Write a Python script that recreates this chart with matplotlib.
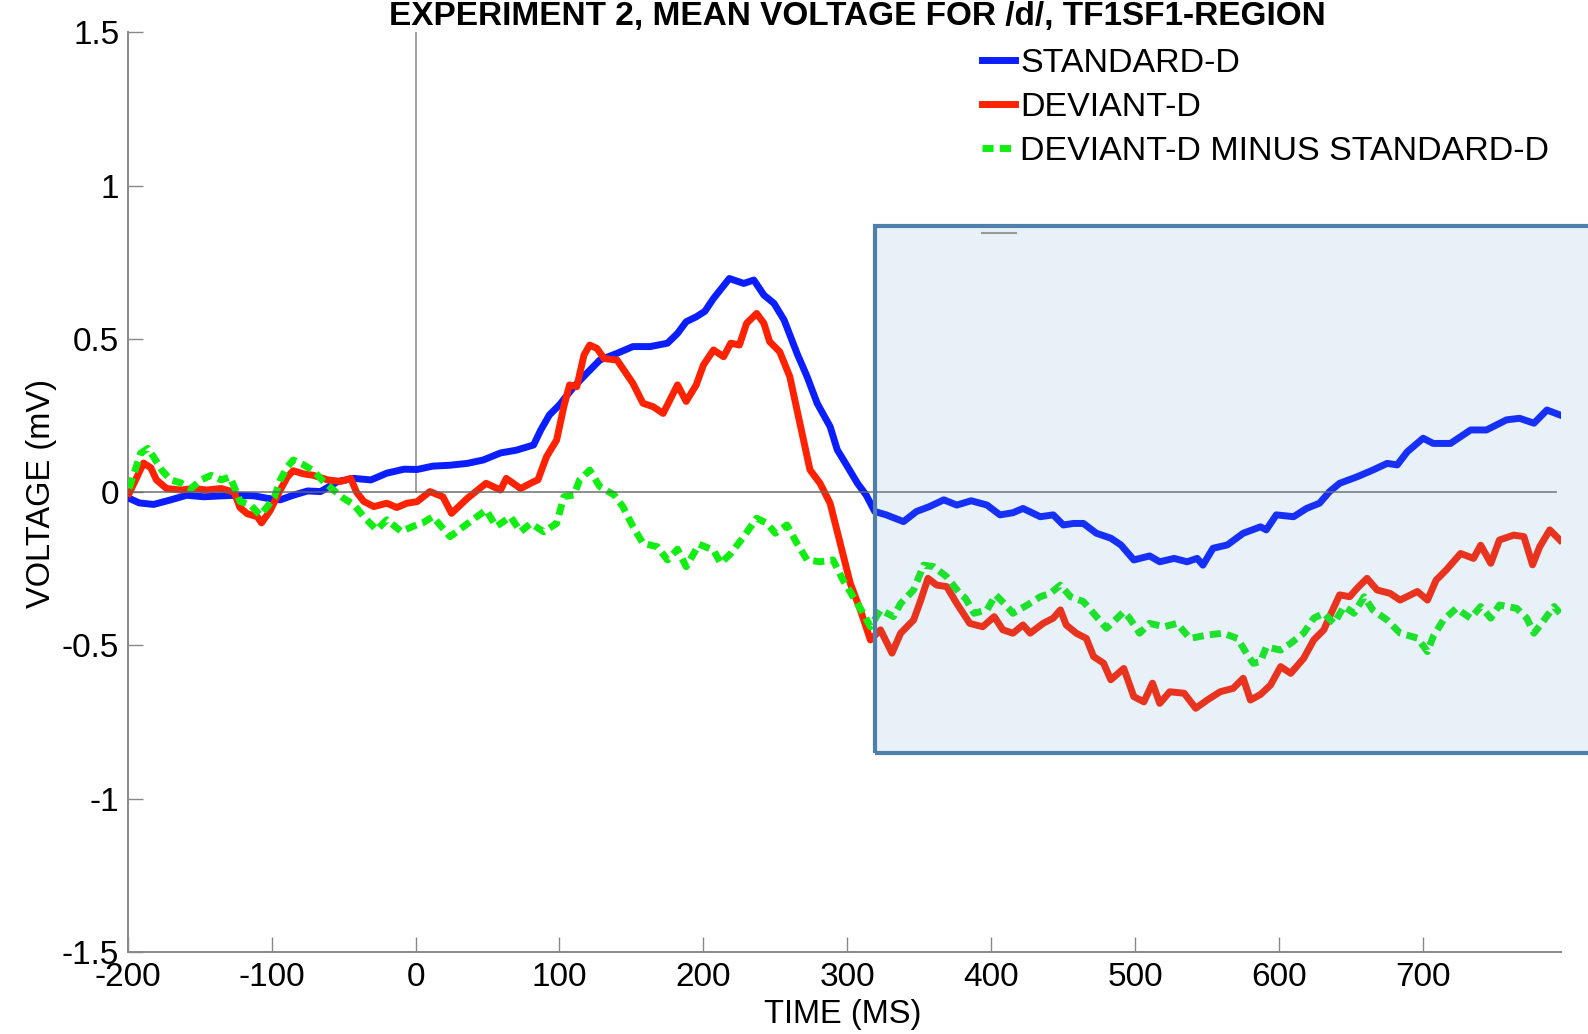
import matplotlib
matplotlib.use("Agg")
import matplotlib.pyplot as plt
from matplotlib.patches import Rectangle
from matplotlib.lines import Line2D

plt.rcParams['font.family'] = ['Liberation Sans', 'DejaVu Sans']
plt.rcParams['axes.unicode_minus'] = False

# standard /d/ (ms, mV)
std_t = [-199, -192, -182, -170, -159, -147, -135, -124, -112, -103, -94, -85, -75, -66,
         -54, -43, -31, -20, -8, 1, 12, 24, 36, 47, 59, 70, 82, 87, 93, 100, 110, 119,
         128, 140, 151, 163, 175, 182, 188, 195, 201, 207, 218, 228, 235, 242, 249, 256,
         265, 272, 279, 288, 293, 300, 307, 313, 319, 327, 339, 348, 357, 367, 376, 386,
         397, 406, 415, 422, 434, 443, 450, 457, 464, 473, 483, 490, 499, 510, 517, 527,
         536, 543, 547, 554, 564, 575, 587, 591, 598, 610, 619, 628, 635, 642, 654, 665,
         675, 682, 689, 700, 707, 719, 733, 744, 758, 767, 777, 786, 795]
std_v = [-0.02, -0.035, -0.04, -0.025, -0.01, -0.015, -0.012, -0.01, -0.012, -0.02, -0.025,
         -0.01, 0.004, 0.002, 0.035, 0.045, 0.04, 0.062, 0.075, 0.074, 0.085, 0.088, 0.094,
         0.105, 0.128, 0.137, 0.154, 0.203, 0.252, 0.285, 0.344, 0.388, 0.431, 0.453, 0.475,
         0.475, 0.486, 0.518, 0.556, 0.572, 0.59, 0.632, 0.697, 0.681, 0.692, 0.643, 0.616,
         0.562, 0.453, 0.377, 0.29, 0.214, 0.138, 0.084, 0.029, -0.009, -0.063, -0.074,
         -0.096, -0.063, -0.047, -0.025, -0.042, -0.028, -0.042, -0.074, -0.067, -0.053,
         -0.08, -0.074, -0.107, -0.102, -0.102, -0.134, -0.15, -0.172, -0.221, -0.208,
         -0.227, -0.216, -0.227, -0.216, -0.238, -0.183, -0.172, -0.134, -0.113, -0.123,
         -0.074, -0.08, -0.053, -0.036, 0.002, 0.029, 0.05, 0.072, 0.094, 0.089, 0.132,
         0.176, 0.159, 0.159, 0.203, 0.203, 0.236, 0.241, 0.225, 0.268, 0.252]

# deviant /d/
dev_t = [-199, -195, -189, -184, -180, -173, -163, -154, -145, -135, -126, -122, -117, -110,
         -107, -101, -94, -89, -85, -78, -71, -61, -52, -45, -41, -36, -29, -20, -13, -6,
         1, 10, 19, 25, 36, 49, 59, 63, 73, 82, 85, 91, 98, 103, 107, 112, 117, 121, 126,
         131, 140, 151, 158, 165, 172, 182, 188, 195, 200, 207, 214, 219, 225, 230, 237,
         242, 246, 253, 260, 267, 274, 281, 288, 295, 302, 309, 316, 323, 331, 337, 346,
         351, 356, 362, 369, 376, 385, 394, 402, 408, 415, 422, 427, 436, 443, 448, 452,
         459, 466, 471, 478, 483, 492, 499, 506, 512, 517, 524, 534, 542, 550, 559, 568,
         575, 580, 587, 594, 601, 608, 617, 624, 631, 635, 642, 649, 654, 661, 668, 677,
         684, 696, 703, 709, 716, 726, 735, 740, 747, 753, 763, 770, 776, 781, 788, 795]
dev_v = [-0.004, 0.035, 0.095, 0.08, 0.04, 0.012, 0.007, 0.012, 0.007, 0.012, 0.0, -0.05,
         -0.07, -0.08, -0.1, -0.06, 0.007, 0.05, 0.07, 0.06, 0.055, 0.04, 0.035, 0.045, 0.0,
         -0.03, -0.047, -0.036, -0.05, -0.036, -0.031, 0.002, -0.015, -0.069, -0.02, 0.029,
         0.007, 0.045, 0.012, 0.034, 0.04, 0.116, 0.17, 0.279, 0.35, 0.344, 0.447, 0.48,
         0.469, 0.436, 0.431, 0.355, 0.29, 0.279, 0.257, 0.35, 0.296, 0.35, 0.415, 0.464,
         0.442, 0.486, 0.48, 0.551, 0.583, 0.551, 0.491, 0.458, 0.377, 0.225, 0.073, 0.029,
         -0.036, -0.167, -0.297, -0.384, -0.482, -0.449, -0.525, -0.46, -0.417, -0.352,
         -0.281, -0.303, -0.308, -0.363, -0.428, -0.439, -0.406, -0.449, -0.46, -0.433,
         -0.46, -0.428, -0.411, -0.384, -0.433, -0.46, -0.477, -0.536, -0.558, -0.612,
         -0.575, -0.667, -0.684, -0.623, -0.689, -0.651, -0.656, -0.705, -0.678, -0.651,
         -0.64, -0.607, -0.678, -0.66, -0.629, -0.569, -0.591, -0.542, -0.482, -0.449,
         -0.406, -0.335, -0.341, -0.314, -0.281, -0.319, -0.33, -0.352, -0.324, -0.352,
         -0.287, -0.254, -0.2, -0.216, -0.173, -0.232, -0.156, -0.14, -0.145, -0.237,
         -0.178, -0.123, -0.156]

# deviant minus standard
diff_t = [-199, -195, -191, -186, -182, -176, -170, -163, -156, -149, -142, -135, -129, -125,
          -122, -115, -108, -103, -98, -94, -89, -85, -78, -71, -64, -57, -50, -43, -36,
          -27, -20, -10, -1, 5, 12, 24, 38, 49, 56, 66, 73, 80, 89, 98, 103, 110, 114, 121,
          128, 138, 144, 151, 158, 168, 175, 182, 188, 197, 207, 212, 219, 228, 237, 244,
          250, 258, 265, 272, 281, 290, 297, 304, 311, 316, 323, 332, 337, 346, 353, 360,
          369, 378, 382, 388, 397, 403, 410, 415, 425, 434, 441, 448, 455, 464, 471, 480,
          485, 492, 496, 503, 510, 520, 529, 538, 550, 561, 571, 578, 582, 587, 591, 601,
          608, 617, 624, 631, 638, 645, 652, 659, 665, 675, 684, 696, 703, 707, 714, 723,
          733, 740, 747, 753, 765, 772, 777, 784, 791, 795]
diff_v = [0.012, 0.07, 0.127, 0.143, 0.115, 0.07, 0.04, 0.03, 0.012, 0.04, 0.055, 0.04, 0.05,
          0.007, -0.03, -0.04, -0.075, -0.047, -0.015, 0.04, 0.083, 0.105, 0.09, 0.07, 0.035,
          0.007, -0.02, -0.04, -0.08, -0.123, -0.09, -0.128, -0.11, -0.1, -0.08, -0.145,
          -0.096, -0.058, -0.112, -0.08, -0.129, -0.102, -0.129, -0.102, -0.015, -0.009,
          0.04, 0.072, 0.018, -0.009, -0.047, -0.112, -0.167, -0.178, -0.221, -0.186, -0.243,
          -0.17, -0.189, -0.232, -0.2, -0.145, -0.085, -0.101, -0.134, -0.107, -0.167,
          -0.221, -0.227, -0.221, -0.287, -0.341, -0.395, -0.439, -0.384, -0.406, -0.363,
          -0.319, -0.238, -0.243, -0.276, -0.33, -0.346, -0.395, -0.384, -0.335, -0.368,
          -0.395, -0.368, -0.341, -0.33, -0.303, -0.341, -0.357, -0.395, -0.444, -0.422,
          -0.39, -0.411, -0.46, -0.428, -0.439, -0.428, -0.477, -0.466, -0.46, -0.477,
          -0.531, -0.558, -0.553, -0.505, -0.515, -0.493, -0.46, -0.411, -0.395, -0.428,
          -0.373, -0.395, -0.341, -0.384, -0.417, -0.46, -0.476, -0.52, -0.471, -0.417,
          -0.379, -0.411, -0.373, -0.411, -0.368, -0.379, -0.411, -0.46, -0.417, -0.373,
          -0.395]

labels = ["STANDARD-D", "DEVIANT-D", "DEVIANT-D MINUS STANDARD-D"]
x_ticks = list(range(-200, 800, 100))
y_ticks = [-1.5, -1, -0.5, 0, 0.5, 1, 1.5]
y_ticklabels = ["-1.5", "-1", "-0.5", "0", "0.5", "1", "1.5"]

# analysis window (ms, mV)
win_start, win_end = 319, 900
win_low, win_high = -0.852, 0.869

fig = plt.figure(figsize=(15.88, 10.34), dpi=100)
ax = fig.add_axes([0.0804, 0.0793, 0.9028, 0.8894])

ax.plot([0, 0], [0, 1.5], color="#888888", lw=1.1, zorder=1)
ax.plot(std_t, std_v, color="#0A1EFF", lw=5, label=labels[0], zorder=3)
ax.plot(dev_t, dev_v, color="#FF2200", lw=5, label=labels[1], zorder=3)
ax.plot(diff_t, diff_v, color="#11EE11", lw=5, ls=(0, (1.6, 0.9)),
        dash_capstyle="butt", label=labels[2], zorder=3)
ax.plot([-200, 792], [0, 0], color="#666666", lw=1.3, alpha=0.8, zorder=4)

ax.add_patch(Rectangle((win_start, win_low), win_end - win_start, win_high - win_low,
                       facecolor="#669BD0", alpha=0.15, edgecolor="none",
                       zorder=5, clip_on=False))
ax.add_patch(Rectangle((win_start, win_low), win_end - win_start, win_high - win_low,
                       facecolor="none", edgecolor="#4F7FAA", lw=3,
                       zorder=6, clip_on=False))

ax.set_xlim(-200, 796)
ax.set_ylim(-1.5, 1.5)
ax.set_xticks(x_ticks)
ax.set_yticks(y_ticks)
ax.set_yticklabels(y_ticklabels)
ax.tick_params(direction="in", length=10.5, width=1, color="#888888",
               labelsize=24, labelcolor="black")
ax.tick_params(axis="x", pad=7)
ax.tick_params(axis="y", pad=6)
for side in ("top", "right"):
    ax.spines[side].set_visible(False)
for side in ("left", "bottom"):
    ax.spines[side].set_color("#888888")
    ax.spines[side].set_linewidth(1.4)

leg = ax.legend(loc="upper left", bbox_to_anchor=(981.7 / 1588, 0.9536),
                bbox_transform=fig.transFigure, frameon=False, fontsize=24.5,
                borderpad=0, borderaxespad=0, handlelength=0.98,
                handletextpad=0.15, labelspacing=0.38)
leg.set_zorder(7)

# stray legend swatch under the entries
fig.add_artist(Line2D([982 / 1588, 1016 / 1588], [1 - 233 / 1034, 1 - 233 / 1034],
                      color="#999999", lw=1.5))

fig.text(0.540, 0.9763, "EXPERIMENT 2, MEAN VOLTAGE FOR /d/, TF1SF1-REGION",
         ha="center", va="baseline", fontsize=24, fontweight="bold")
fig.text(842.6 / 1588, 0.0102, "TIME (MS)", ha="center", va="baseline", fontsize=23.5)
fig.text(41.5 / 1588, 0.5224, "VOLTAGE (mV)", ha="center", va="center",
         rotation=90, fontsize=23.5)

fig.savefig("out.png", dpi=100, facecolor="white")
